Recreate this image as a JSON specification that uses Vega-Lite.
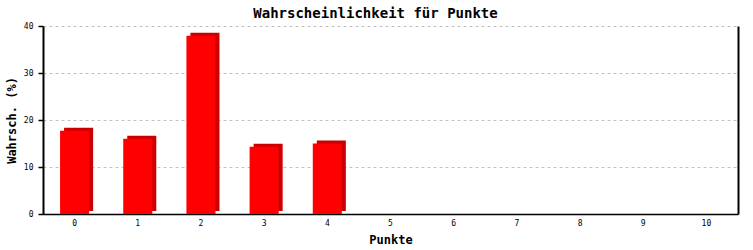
{
  "$schema": "https://vega.github.io/schema/vega-lite/v6.json",
  "autosize": {"type": "none"},
  "width": 695,
  "height": 188,
  "padding": {"left": 43, "top": 26, "right": 15, "bottom": 36},
  "background": "white",
  "title": {
    "text": "Wahrscheinlichkeit für Punkte",
    "font": "DejaVu Sans Mono",
    "fontSize": 14,
    "fontWeight": "bold",
    "color": "black",
    "anchor": "middle",
    "dx": -15,
    "offset": 1
  },
  "data": {
    "values": [
      {"Punkte": "0", "Wahrscheinlichkeit": 17.7},
      {"Punkte": "1", "Wahrscheinlichkeit": 16.0},
      {"Punkte": "2", "Wahrscheinlichkeit": 37.9},
      {"Punkte": "3", "Wahrscheinlichkeit": 14.3},
      {"Punkte": "4", "Wahrscheinlichkeit": 15.0},
      {"Punkte": "5", "Wahrscheinlichkeit": 0},
      {"Punkte": "6", "Wahrscheinlichkeit": 0},
      {"Punkte": "7", "Wahrscheinlichkeit": 0},
      {"Punkte": "8", "Wahrscheinlichkeit": 0},
      {"Punkte": "9", "Wahrscheinlichkeit": 0},
      {"Punkte": "10", "Wahrscheinlichkeit": 0}
    ]
  },
  "layer": [
    {
      "mark": {"type": "bar", "color": "#cc0000", "xOffset": 4, "yOffset": -3, "width": {"band": 0.46}},
      "encoding": {
        "x": {"field": "Punkte", "type": "ordinal", "sort": null,
              "scale": {"paddingInner": 0, "paddingOuter": 0},
              "axis": {"title": "Punkte", "labelAngle": 0, "ticks": false, "labelPadding": 5,
                       "domainColor": "black", "domainWidth": 1.5,
                       "labelFont": "DejaVu Sans Mono", "labelFontSize": 8, "labelColor": "black",
                       "titleFont": "DejaVu Sans Mono", "titleFontSize": 12, "titleFontWeight": "bold",
                       "titleColor": "black", "titlePadding": 7}},
        "y": {"field": "Wahrscheinlichkeit", "type": "quantitative",
              "scale": {"domain": [0, 40]},
              "axis": {"orient": "right", "labels": false, "ticks": false, "grid": false,
                       "domain": true, "domainColor": "black", "domainWidth": 2, "title": null}}
      }
    },
    {
      "mark": {"type": "bar", "color": "#ff0000", "width": {"band": 0.46}},
      "encoding": {
        "x": {"field": "Punkte", "type": "ordinal", "sort": null,
              "scale": {"paddingInner": 0, "paddingOuter": 0},
              "axis": {"title": "Punkte", "labelAngle": 0, "ticks": false, "labelPadding": 5,
                       "domainColor": "black", "domainWidth": 1.5,
                       "labelFont": "DejaVu Sans Mono", "labelFontSize": 8, "labelColor": "black",
                       "titleFont": "DejaVu Sans Mono", "titleFontSize": 12, "titleFontWeight": "bold",
                       "titleColor": "black", "titlePadding": 7}},
        "y": {"field": "Wahrscheinlichkeit", "type": "quantitative",
              "scale": {"domain": [0, 40]},
              "axis": {"title": "Wahrsch. (%)", "values": [0, 10, 20, 30, 40],
                       "tickSize": 5, "tickColor": "black", "tickWidth": 1.5,
                       "domainColor": "black", "domainWidth": 2,
                       "grid": true, "gridColor": "#c0c0c0", "gridDash": [3, 3], "gridWidth": 1,
                       "labelFont": "DejaVu Sans Mono", "labelFontSize": 8, "labelColor": "black",
                       "labelPadding": 5,
                       "titleFont": "DejaVu Sans Mono", "titleFontSize": 12, "titleFontWeight": "bold",
                       "titleColor": "black", "titlePadding": 5}}
      }
    }
  ],
  "resolve": {"axis": {"y": "independent"}},
  "config": {"view": {"stroke": null}}
}
